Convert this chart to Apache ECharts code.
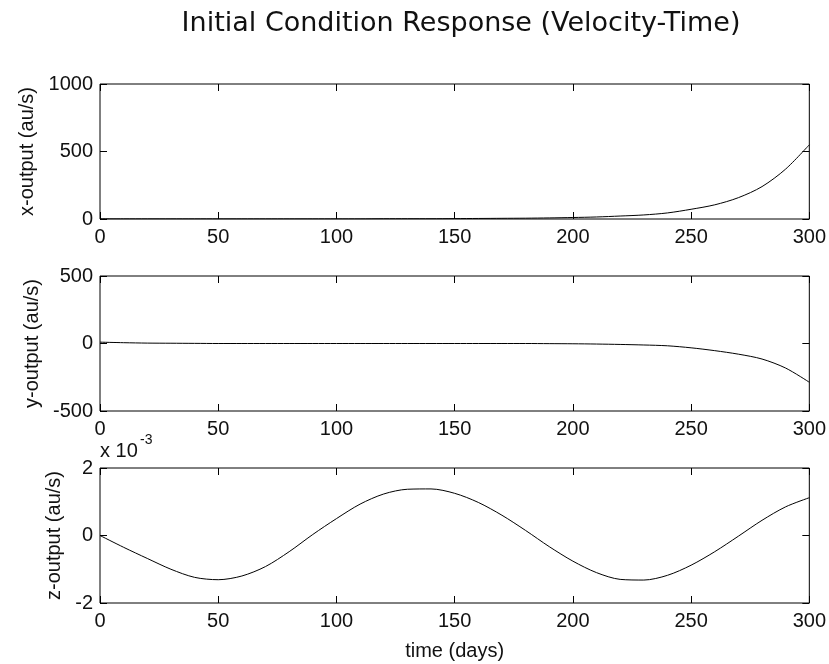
<!DOCTYPE html>
<html><head><meta charset="utf-8">
<script src="https://cdn.jsdelivr.net/npm/echarts@6/dist/echarts.min.js"></script>
<style>html,body{margin:0;padding:0;background:#fff}#c{width:829px;height:664px}</style>
</head><body><div id="c"></div>
<script>
// ---- data ----
const timeDays = [0,10,20,30,40,50,60,70,80,90,100,110,120,130,140,150,160,170,180,190,200,210,220,230,240,250,260,270,280,290,300];
const xOutput  = [1,1,1,1,1,1,1,1,1,1,1,1,2,2,2,3,4,5,6,8,11,15,22,30,45,72,105,158,240,370,550];
const yOutput  = [10,6,3,2,1,0,0,0,0,0,0,0,0,0,0,0,0,0,0,-1,-2,-4,-7,-11,-17,-32,-53,-79,-115,-182,-287];
// z-output in units of 1e-3 au/s
const zOutputE3 = [0,-0.35,-0.68,-1.0,-1.24,-1.31,-1.20,-0.92,-0.48,0.03,0.50,0.93,1.23,1.37,1.38,1.25,0.98,0.60,0.15,-0.33,-0.76,-1.10,-1.30,-1.32,-1.18,-0.88,-0.48,-0.02,0.45,0.85,1.12];
const xTickStep = 50, xMin = 0, xMax = 300;
const panels = [
  {name:'x-output (au/s)', values:xOutput,  min:0,    max:1000, step:500},
  {name:'y-output (au/s)', values:yOutput,  min:-500, max:500,  step:500},
  {name:'z-output (au/s)', values:zOutputE3,min:-2,   max:2,    step:2}
];
const titleText = 'Initial Condition Response (Velocity-Time)';
const xLabelText = 'time (days)';

// ---- layout / styles ----
const FONT = "'Liberation Sans', Arial, sans-serif";
const tops = [84, 276, 468];
const nameGaps = [51, 52, 36];
const grid = [], xAxis = [], yAxis = [], series = [];
const fmt = v => String(v);
panels.forEach((p, i) => {
  grid.push({left:100, top:tops[i], width:712, height:135, show:true, borderColor:'#000', borderWidth:1, backgroundColor:'#fff'});
  const tick = {show:true, inside:true, length:7, lineStyle:{color:'#000', width:1}};
  const line = {show:false, onZero:false};
  const xb = {type:'value', gridIndex:i, min:xMin, max:xMax, interval:xTickStep, position:'bottom',
    axisLine:line, axisTick:tick, splitLine:{show:false},
    axisLabel:{fontSize:20, fontFamily:FONT, color:'#111', margin:8, formatter:fmt}};
  if (i === 2) Object.assign(xb, {name:xLabelText, nameLocation:'middle', nameGap:38,
    nameTextStyle:{fontSize:20, fontFamily:FONT, color:'#111'}});
  xAxis.push(xb);
  xAxis.push({type:'value', gridIndex:i, min:xMin, max:xMax, interval:xTickStep, position:'top',
    axisLine:line, axisTick:tick, splitLine:{show:false}, axisLabel:{show:false}});
  yAxis.push({type:'value', gridIndex:i, min:p.min, max:p.max, interval:p.step, position:'left',
    axisLine:line, axisTick:tick, splitLine:{show:false},
    axisLabel:{fontSize:20, fontFamily:FONT, color:'#111', margin:7, formatter:fmt},
    name:p.name, nameLocation:'middle', nameRotate:90, nameGap:nameGaps[i],
    nameTextStyle:{fontSize:20, fontFamily:FONT, color:'#111'}});
  yAxis.push({type:'value', gridIndex:i, min:p.min, max:p.max, interval:p.step, position:'right',
    axisLine:line, axisTick:tick, splitLine:{show:false}, axisLabel:{show:false}});
  series.push({type:'line', xAxisIndex:2*i, yAxisIndex:2*i, showSymbol:false, smooth:0.3,
    lineStyle:{color:'#000', width:1}, data:timeDays.map((t, k) => [t, p.values[k]])});
});

const chart = echarts.init(document.getElementById('c'), null, {renderer:'canvas'});
chart.setOption({
  animation:false,
  backgroundColor:'#fff',
  title:{text:titleText, left:456, top:5, textAlign:'center',
    textStyle:{fontFamily:"'DejaVu Sans', sans-serif", fontSize:27, fontWeight:'normal', color:'#111'}},
  grid, xAxis, yAxis, series,
  graphic:[
    {type:'text', left:100, top:441, style:{text:'x 10', font:"20px " + FONT, fill:'#111'}},
    {type:'text', left:140, top:433, style:{text:'-3', font:"14px " + FONT, fill:'#111'}}
  ]
});
</script></body></html>
